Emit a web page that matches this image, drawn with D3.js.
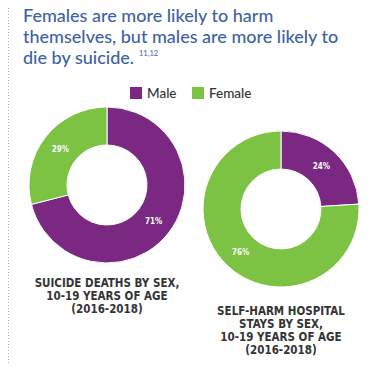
<!DOCTYPE html>
<html>
<head>
<meta charset="utf-8">
<script src="https://cdn.jsdelivr.net/npm/d3@7"></script>
<style>
  body { margin: 0; background: #fff; }
  svg { display: block; }
</style>
</head>
<body>
<div id="canvas"></div>
<script>
// chart data
var sexes = ["Male", "Female"];
var colours = ["#7b2882", "#7cc243"];
var suicideDeaths = [71, 29];
var selfHarmStays = [24, 76];
var titleLines = ["Females are more likely to harm", "themselves, but males are more likely to", "die by suicide."];
var leftCaption = ["SUICIDE DEATHS BY SEX,", "10-19 YEARS OF AGE", "(2016-2018)"];
var rightCaption = ["SELF-HARM HOSPITAL", "STAYS BY SEX,", "10-19 YEARS OF AGE", "(2016-2018)"];

var W = 372, H = 371;

var svg = d3.select("#canvas").append("svg")
    .attr("width", W)
    .attr("height", H);

// dotted rule on the left
svg.append("line")
    .attr("x1", 8.5).attr("x2", 8.5)
    .attr("y1", 8).attr("y2", 363)
    .attr("stroke", "#b5b5b5")
    .attr("stroke-width", 1)
    .attr("stroke-dasharray", "1,2");

// title
var title = svg.append("text")
    .attr("font-family", "Lato, 'Open Sans', sans-serif")
    .attr("font-size", 18)
    .attr("font-weight", 500)
    .attr("fill", "#3e62a6");
titleLines.forEach(function (t, i) {
  title.append("tspan").attr("x", 23).attr("y", 22 + i * 21).text(t);
});
svg.append("text")
    .attr("x", 139).attr("y", 56)
    .attr("font-family", "Lato, sans-serif")
    .attr("font-size", 7.5)
    .attr("fill", "#3e62a6")
    .text("11,12");

// legend
var colour = d3.scaleOrdinal().domain(sexes).range(colours);
var legendX = d3.scaleOrdinal().domain(sexes).range([130, 192]);
var legend = svg.selectAll(".legend").data(sexes).enter().append("g")
    .attr("transform", function (d) { return "translate(" + legendX(d) + ",87)"; });
legend.append("rect")
    .attr("width", 12).attr("height", 12)
    .attr("fill", function (d) { return colour(d); });
legend.append("text")
    .attr("x", 17).attr("y", 11)
    .attr("font-family", "Lato, sans-serif")
    .attr("font-size", 13.5)
    .attr("font-weight", 500)
    .attr("fill", "#333")
    .text(function (d) { return d; });

// donuts
var pie = d3.pie().sort(null).value(function (d) { return d; });
var arc = d3.arc().innerRadius(40).outerRadius(78);
var labelArc = d3.arc().innerRadius(59).outerRadius(59);

function donut(values, cx, cy) {
  var g = svg.append("g").attr("transform", "translate(" + cx + "," + cy + ")");
  var arcs = pie(values);
  g.selectAll("path").data(arcs).enter().append("path")
      .attr("d", arc)
      .attr("fill", function (d, i) { return colours[i]; })
      .attr("stroke", "#fff")
      .attr("stroke-width", 1);
  g.selectAll("text").data(arcs).enter().append("text")
      .attr("transform", function (d) { return "translate(" + labelArc.centroid(d) + ")"; })
      .attr("text-anchor", "middle")
      .attr("dy", "0.35em")
      .attr("font-family", "'DejaVu Sans Condensed', 'DejaVu Sans', sans-serif")
      .attr("font-size", 8)
      .attr("font-weight", "bold")
      .attr("fill", "#fff")
      .text(function (d) { return d.value + "%"; });
}

function caption(lines, cx, y0) {
  lines.forEach(function (l, i) {
    svg.append("text")
        .attr("x", cx).attr("y", y0 + i * 13)
        .attr("text-anchor", "middle")
        .attr("font-family", "'DejaVu Sans Condensed', sans-serif")
        .attr("font-size", 11.5)
        .attr("font-weight", "bold")
        .attr("fill", "#333")
        .text(l);
  });
}

donut(suicideDeaths, 107, 185);
donut(selfHarmStays, 281, 209);
caption(leftCaption, 107, 287);
caption(rightCaption, 281, 315);
</script>
</body>
</html>
